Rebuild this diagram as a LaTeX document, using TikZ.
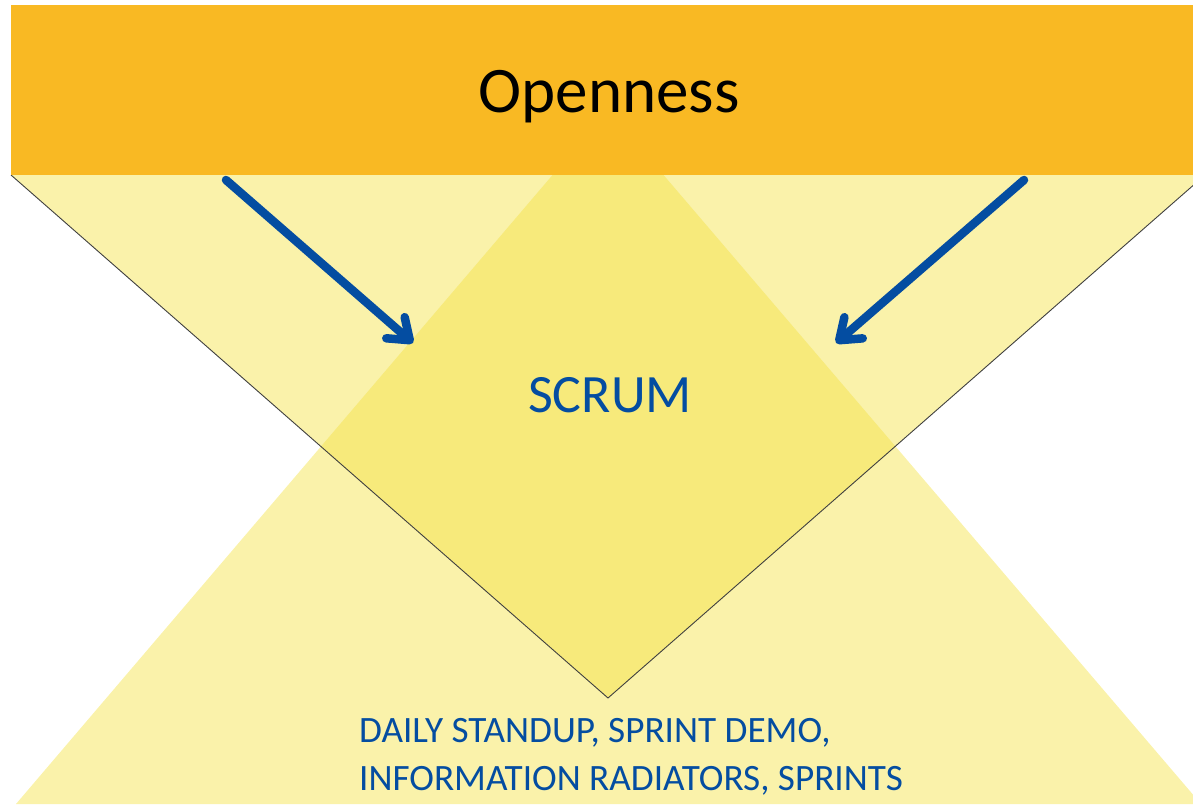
\documentclass[tikz,border=0pt]{standalone}
\usepackage{fontspec}
\setmainfont{Carlito}
\usetikzlibrary{arrows.meta}

\definecolor{bandorange}{RGB}{249,185,35}
\definecolor{paleyellow}{RGB}{250,242,170}
\definecolor{midyellow}{RGB}{247,234,123}
\definecolor{scrumblue}{RGB}{4,77,161}

\tikzset{
  pointer/.style={scrumblue, line width=8.5pt, line cap=round, line join=round,
    -{Straight Barb[length=19pt, width=28pt, line cap=round, line join=round]}},
  funnel edge/.style={draw=black!75, line width=0.9pt},
  blue text/.style={text=scrumblue, inner sep=0pt}
}

\begin{document}
\begin{tikzpicture}[x=1pt,y=-1pt]
\useasboundingbox (0,0) rectangle (1193,804);
\begin{scope}
\clip (0,0) rectangle (1193,804);
% the two overlapping triangles
\fill[paleyellow] (11,175) -- (1205,175) -- (608,698) -- cycle;
\fill[paleyellow] (608,110) -- (16,804) -- (1201,804) -- cycle;
\begin{scope}
\clip (11,175) -- (1205,175) -- (608,698) -- cycle;
\fill[midyellow] (608,110) -- (16,804) -- (1201,804) -- cycle;
\end{scope}
\draw[funnel edge] (11,175) -- (608,698) -- (1205,175);
\end{scope}

% top band
\fill[bandorange] (11,5) rectangle (1193,175);
\node[anchor=base, inner sep=0pt] (openness) at (609,112) {\fontsize{65}{78}\selectfont Openness};

\node[blue text, anchor=base] (scrum) at (610,412) {\fontsize{54}{65}\selectfont SCRUM};
% base anchor sits on the last line here
\node[blue text, anchor=base west, align=left, font=\fontsize{37.2}{48}\selectfont] (practices) at (359,790)
  {DAILY STANDUP, SPRINT DEMO,\\INFORMATION RADIATORS, SPRINTS};

\coordinate (leftstart) at (226,180);
\coordinate (leftend) at (413,343);
\coordinate (rightstart) at (1024,180);
\coordinate (rightend) at (836,343);
\draw[pointer] (leftstart) -- (leftend);
\draw[pointer] (rightstart) -- (rightend);
\end{tikzpicture}
\end{document}
